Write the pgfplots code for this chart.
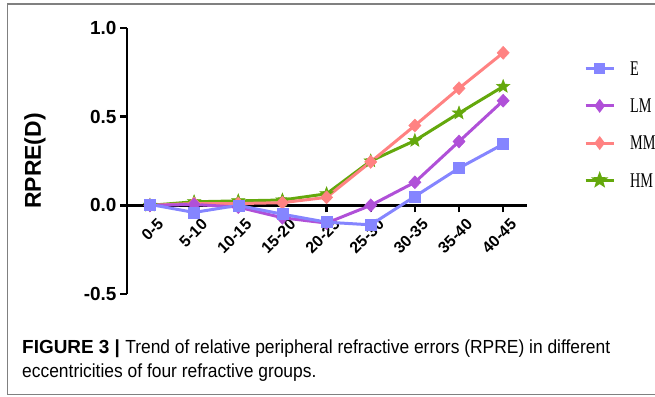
\documentclass[border=0pt]{standalone}
\usepackage{pgfplots}
\pgfplotsset{compat=1.18}
\usepackage{fontspec}
\setmainfont{Liberation Sans}
\newfontfamily\legfont[FakeStretch=0.68]{Liberation Serif}
\newfontfamily\capfont[FakeStretch=0.92]{Liberation Sans}
\definecolor{cE}{HTML}{8585FF}
\definecolor{cLM}{HTML}{B050D8}
\definecolor{cMM}{HTML}{FF8282}
\definecolor{cHM}{HTML}{64A80C}
\pgfdeclareplotmark{fstar}{%
  \pgfpathmoveto{\pgfpointpolar{90}{\pgfplotmarksize}}%
  \pgfpathlineto{\pgfpointpolar{126}{0.42\pgfplotmarksize}}%
  \pgfpathlineto{\pgfpointpolar{162}{\pgfplotmarksize}}%
  \pgfpathlineto{\pgfpointpolar{198}{0.42\pgfplotmarksize}}%
  \pgfpathlineto{\pgfpointpolar{234}{\pgfplotmarksize}}%
  \pgfpathlineto{\pgfpointpolar{270}{0.42\pgfplotmarksize}}%
  \pgfpathlineto{\pgfpointpolar{306}{\pgfplotmarksize}}%
  \pgfpathlineto{\pgfpointpolar{342}{0.42\pgfplotmarksize}}%
  \pgfpathlineto{\pgfpointpolar{18}{\pgfplotmarksize}}%
  \pgfpathlineto{\pgfpointpolar{54}{0.42\pgfplotmarksize}}%
  \pgfpathclose
  \pgfusepathqfillstroke}
\begin{document}
\begin{tikzpicture}[x=1bp,y=1bp]
\path[use as bounding box] (0,0) rectangle (655,396);
\draw[color=black!50, line width=1.6bp] (656,392) -- (7.5,392) -- (7.5,1.5) -- (656,1.5);
\begin{axis}[
  at={(127bp,102bp)}, anchor=south west,
  scale only axis, width=400bp, height=266bp,
  xmin=-0.52, xmax=8.54, ymin=-0.5, ymax=1.0,
  axis x line*=middle, axis y line*=left,
  axis line style={line width=2.6bp, black},
  tick align=outside,
  major tick length=7bp,
  tick style={line width=2.4bp, black},
  xtick={0,...,8},
  xticklabels={0-5,5-10,10-15,15-20,20-25,25-30,30-35,35-40,40-45},
  ytick={-0.5,0,0.5,1.0},
  yticklabel style={/pgf/number format/.cd, fixed, fixed zerofill, precision=1, assume math mode=true},
  tick label style={font=\bfseries\fontsize{19}{19}\selectfont},
  xticklabel style={font=\bfseries\fontsize{16}{16}\selectfont, rotate=45, anchor=east, inner sep=1bp, yshift=-14bp, xshift=2bp},
  ylabel={RPRE(D)},
  ylabel style={at={(axis description cs:-0.23,0.5)}, anchor=center, font=\bfseries\fontsize{23}{23}\selectfont},
  clip=false,
  reverse legend,
  legend style={at={(rel axis cs:1.135,0.885)}, anchor=north west, draw=none, fill=none,
    font=\legfont\fontsize{21}{21}\selectfont, row sep=21.5bp,
    nodes={inner sep=1bp, text depth=0pt},
    /tikz/every odd column/.style={column sep=14bp}},
  legend cell align=left,
  legend image code/.code={%
    \draw[mark repeat=2, mark phase=2, #1, mark options={scale=0.7}]
      plot coordinates {(0bp,0bp) (14bp,0bp) (28bp,0bp)};},
  every axis plot/.append style={line width=3bp},
]
\addplot[color=cHM, mark=fstar, mark size=7bp, mark options={line width=0.5bp}]
  coordinates {(0,0.0) (1,0.02) (2,0.025) (3,0.03) (4,0.065) (5,0.25) (6,0.365) (7,0.52) (8,0.67)};
\addlegendentry{HM}
\addplot[color=cMM, mark=diamond*, mark size=6.5bp, mark options={xscale=1.25, line width=0.5bp}]
  coordinates {(0,0.0) (1,0.01) (2,0.01) (3,0.015) (4,0.045) (5,0.245) (6,0.45) (7,0.66) (8,0.86)};
\addlegendentry{MM}
\addplot[color=cLM, mark=diamond*, mark size=6.5bp, mark options={xscale=1.25, line width=0.5bp}]
  coordinates {(0,0.0) (1,0.005) (2,-0.01) (3,-0.07) (4,-0.10) (5,0.0) (6,0.13) (7,0.36) (8,0.59)};
\addlegendentry{LM}
\addplot[color=cE, mark=square*, mark size=5.5bp, mark options={line width=0.5bp}]
  coordinates {(0,0.005) (1,-0.04) (2,0.0) (3,-0.05) (4,-0.095) (5,-0.11) (6,0.05) (7,0.21) (8,0.345)};
\addlegendentry{E}
\end{axis}
\node[anchor=base west, inner sep=0pt] at (22,43) {\fontsize{19}{19}\selectfont\textbf{FIGURE 3 |} \capfont Trend of relative peripheral refractive errors (RPRE) in different};
\node[anchor=base west, inner sep=0pt] at (22,19) {\fontsize{19}{19}\selectfont\capfont eccentricities of four refractive groups.};
\end{tikzpicture}
\end{document}
